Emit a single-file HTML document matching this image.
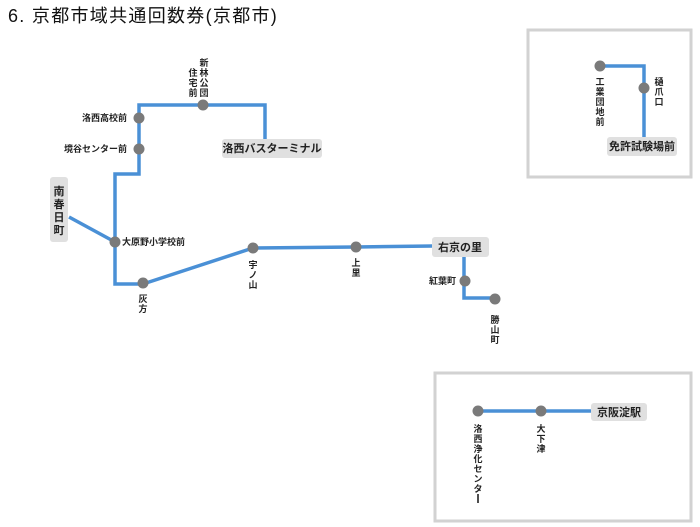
<!DOCTYPE html>
<html><head><meta charset="utf-8"><style>
html,body{margin:0;padding:0;background:#fff;}
svg{display:block;font-family:"Liberation Sans","Noto Sans CJK JP",sans-serif;}
.t{font-size:9px;font-weight:bold;fill:#222;}
.b{font-size:11px;font-weight:bold;fill:#222;}
</style></head><body>
<svg width="700" height="527" viewBox="0 0 700 527" xmlns="http://www.w3.org/2000/svg">
<text x="8" y="22" font-size="18" letter-spacing="1.3" fill="#111">6. 京都市域共通回数券(京都市)</text>

<rect x="528" y="30" width="163" height="147" fill="#fff" stroke="#d2d2d2" stroke-width="3"/>
<rect x="435" y="373" width="256" height="148" fill="#fff" stroke="#d2d2d2" stroke-width="3"/>

<g fill="none" stroke="#4a90d6" stroke-width="3.5">
<polyline points="265,139 265,105 139,105 139,174 115,174 115,284 143,284"/>
<line x1="69" y1="217" x2="115" y2="242"/>
<polyline points="143,284 253,248 356,247 433,246"/>
<polyline points="464,256 464,298 495,298"/>
<polyline points="600,66 644,66 644,138"/>
<line x1="478" y1="411" x2="592" y2="411"/>
</g>

<g fill="#e0e0e0">
<rect x="222" y="139" width="100" height="19" rx="3"/>
<rect x="50" y="177" width="18" height="65" rx="3"/>
<rect x="432" y="237" width="57" height="20" rx="3"/>
<rect x="607" y="137" width="70" height="19" rx="3"/>
<rect x="591" y="403" width="56" height="18" rx="3"/>
</g>
<text class="b" x="272" y="152" text-anchor="middle">洛西バスターミナル</text>
<text class="b" x="460" y="251" text-anchor="middle">右京の里</text>
<text class="b" x="642" y="150" text-anchor="middle">免許試験場前</text>
<text class="b" x="619" y="416" text-anchor="middle">京阪淀駅</text>
<g class="b" text-anchor="middle"><text x="59" y="195">南</text><text x="59" y="208">春</text><text x="59" y="221">日</text><text x="59" y="234">町</text></g>

<g fill="#7a7a7a">
<circle cx="203" cy="105" r="5.5"/>
<circle cx="139" cy="118" r="5.5"/>
<circle cx="139" cy="149" r="5.5"/>
<circle cx="115" cy="242" r="5.5"/>
<circle cx="143" cy="283" r="5.5"/>
<circle cx="253" cy="248" r="5.5"/>
<circle cx="356" cy="247" r="5.5"/>
<circle cx="465" cy="281" r="5.5"/>
<circle cx="495" cy="299" r="5.5"/>
<circle cx="600" cy="66" r="5.5"/>
<circle cx="644" cy="88" r="5.5"/>
<circle cx="478" cy="411" r="5.5"/>
<circle cx="541" cy="411" r="5.5"/>
</g>

<text class="t" x="127" y="121" text-anchor="end">洛西高校前</text>
<text class="t" x="127" y="152" text-anchor="end">境谷センター前</text>
<text class="t" x="122" y="245">大原野小学校前</text>
<text class="t" x="456" y="284" text-anchor="end">紅葉町</text>

<g class="t" text-anchor="middle">
<text x="204" y="66">新</text><text x="204" y="76">林</text><text x="204" y="86">公</text><text x="204" y="96">団</text>
<text x="193" y="76">住</text><text x="193" y="86">宅</text><text x="193" y="96">前</text>
<text x="143" y="302">灰</text><text x="143" y="312">方</text>
<text x="253" y="268">宇</text><text x="253" y="278">ノ</text><text x="253" y="288">山</text>
<text x="356" y="266">上</text><text x="356" y="276">里</text>
<text x="495" y="323">勝</text><text x="495" y="333">山</text><text x="495" y="343">町</text>
<text x="600" y="85">工</text><text x="600" y="95">業</text><text x="600" y="105">団</text><text x="600" y="115">地</text><text x="600" y="125">前</text>
<text x="659" y="85">樋</text><text x="659" y="95">爪</text><text x="659" y="105">口</text>
<text x="478" y="432">洛</text><text x="478" y="442">西</text><text x="478" y="452">浄</text><text x="478" y="462">化</text><text x="478" y="472">セ</text><text x="478" y="482">ン</text><text x="478" y="492">タ</text>
<text x="541" y="432">大</text><text x="541" y="442">下</text><text x="541" y="452">津</text>
</g>
<rect x="477.2" y="494" width="1.6" height="9" fill="#222"/>
</svg>
</body></html>
